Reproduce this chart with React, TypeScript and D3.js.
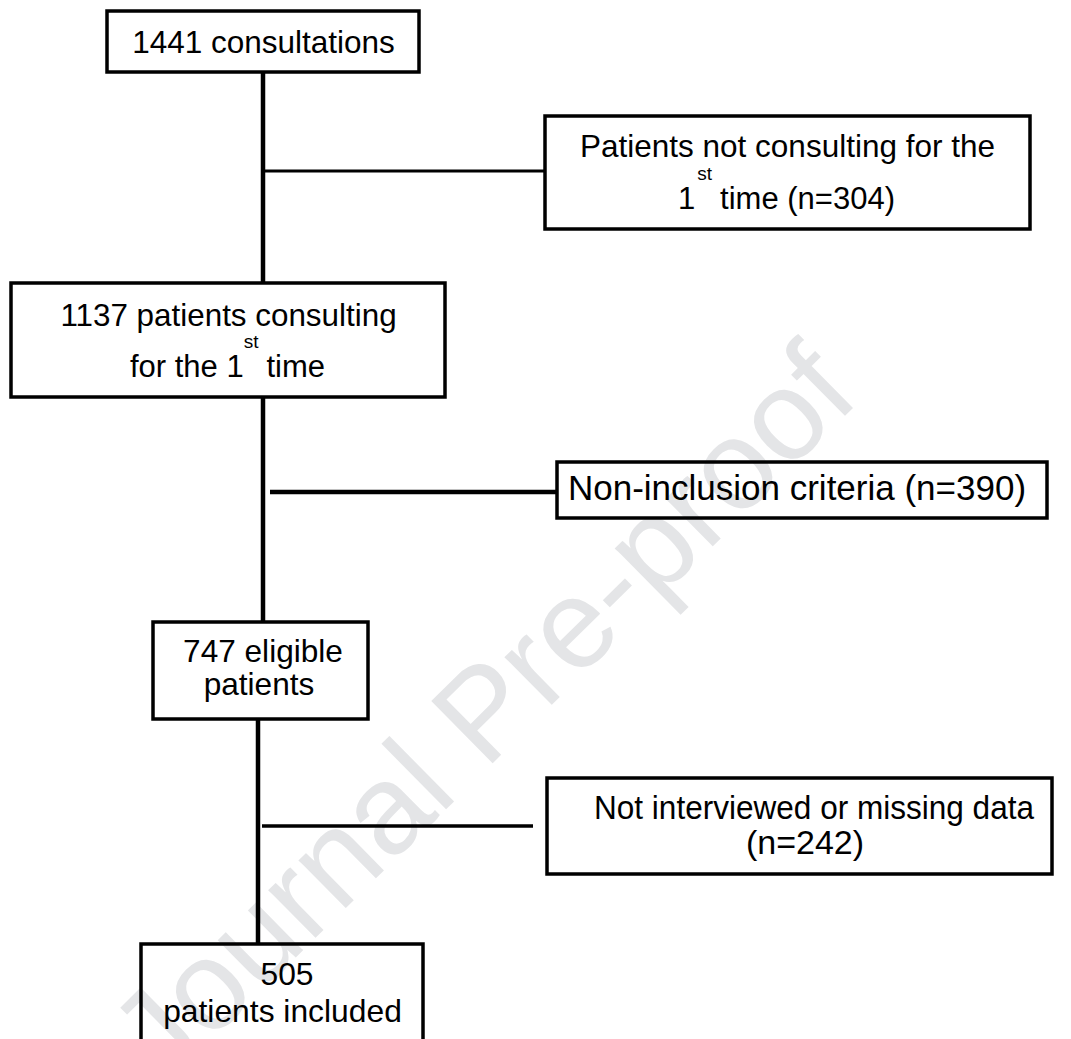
import { useEffect, useRef } from "react";
import * as d3 from "d3";

// flow counts
const stageLines = [
    ["1441 consultations"],
    ["1137 patients consulting", "for the 1{st} time"],
    ["747 eligible", "patients"],
    ["505", "patients included"],
];
const exclusionLines = [
    ["Patients not consulting for the", "1{st} time (n=304)"],
    ["Non-inclusion criteria (n=390)"],
    ["Not interviewed or missing data", "(n=242)"],
];
const watermark = "Journal Pre-proof";

const W = 1071;
const H = 1039;
const FONT = "'Liberation Sans', Arial, Helvetica, sans-serif";

// box geometry [x0, y0, x1, y1] and text placement
const stageLayout = [
    { box: [107, 11, 419, 72], lines: [{ cx: 263.5, y: 53, size: 31.5 }] },
    {
        box: [11, 283, 445, 397],
        lines: [
            { cx: 228.5, y: 326, size: 31.4 },
            { cx: 227.5, y: 377, size: 31, supDx: 0 },
        ],
    },
    {
        box: [153, 622, 368, 719],
        lines: [
            { cx: 263, y: 662, size: 31.6 },
            { cx: 259, y: 695, size: 31.6 },
        ],
    },
    {
        box: [141, 944, 423, 1070],
        lines: [
            { cx: 287, y: 985, size: 31.8 },
            { cx: 282.5, y: 1022, size: 31.8 },
        ],
    },
];
const trunkX = [263, 263, 258];

const exclusionLayout = [
    {
        box: [545, 116, 1030, 229],
        lines: [
            { cx: 787.5, y: 157, size: 31.5 },
            { cx: 786.5, y: 209, size: 31, supDx: 2 },
        ],
        link: { x0: 263, x1: 545, y: 171, w: 3 },
    },
    {
        box: [557, 462, 1047, 518],
        lines: [{ cx: 797, y: 500, size: 35 }],
        link: { x0: 270, x1: 556, y: 492, w: 4.5 },
    },
    {
        box: [547, 778, 1052, 874],
        lines: [
            { cx: 814, y: 819, size: 34, len: 440 },
            { cx: 805, y: 854, size: 34 },
        ],
        link: { x0: 262, x1: 533, y: 826, w: 3.5 },
    },
];

type LineLayout = { cx: number; y: number; size: number; len?: number; supDx?: number };

function drawText(g: any, text: string, l: LineLayout) {
    const t = g
        .append("text")
        .attr("x", l.cx)
        .attr("y", l.y)
        .attr("text-anchor", "middle")
        .attr("font-size", l.size)
        .attr("fill", "#000");
    const m = text.match(/^(.*?)\{(\w+)\}\s*(.*)$/);
    if (m) {
        t.append("tspan").text(m[1]);
        t.append("tspan")
            .attr("dx", l.supDx ?? 0)
            .attr("dy", -29)
            .attr("font-size", 19)
            .text(m[2]);
        t.append("tspan").attr("dx", 8).attr("dy", 29).text(m[3]);
    } else {
        t.text(text);
        if (l.len) t.attr("textLength", l.len).attr("lengthAdjust", "spacingAndGlyphs");
    }
}

function drawBox(g: any, box: number[]) {
    const [x0, y0, x1, y1] = box;
    g.append("rect")
        .attr("x", x0)
        .attr("y", y0)
        .attr("width", x1 - x0)
        .attr("height", y1 - y0)
        .attr("fill", "none")
        .attr("stroke", "#000")
        .attr("stroke-width", 3.5);
}

export default function App() {
    const svgRef = useRef<SVGSVGElement | null>(null);

    useEffect(() => {
        if (!svgRef.current) return;
        const svg = d3.select(svgRef.current);
        svg.selectAll("*").remove();

        svg.append("rect").attr("width", W).attr("height", H).attr("fill", "#fff");

        svg.append("text")
            .attr("transform", "translate(482,712) rotate(-44.6)")
            .attr("text-anchor", "middle")
            .attr("dominant-baseline", "central")
            .attr("font-family", FONT)
            .attr("font-size", 127)
            .attr("fill", "#e4e5e7")
            .text(watermark);

        const g = svg.append("g").attr("font-family", FONT);

        // trunk
        stageLayout.slice(0, -1).forEach((s, i) => {
            const next = stageLayout[i + 1];
            g.append("line")
                .attr("x1", trunkX[i])
                .attr("x2", trunkX[i])
                .attr("y1", s.box[3])
                .attr("y2", next.box[1])
                .attr("stroke", "#000")
                .attr("stroke-width", 4.5);
        });

        // side branches
        exclusionLayout.forEach((e) => {
            g.append("line")
                .attr("x1", e.link.x0)
                .attr("x2", e.link.x1)
                .attr("y1", e.link.y)
                .attr("y2", e.link.y)
                .attr("stroke", "#000")
                .attr("stroke-width", e.link.w);
        });

        stageLayout.forEach((s, i) => {
            drawBox(g, s.box);
            stageLines[i].forEach((txt, j) => drawText(g, txt, s.lines[j]));
        });

        exclusionLayout.forEach((e, i) => {
            drawBox(g, e.box);
            exclusionLines[i].forEach((txt, j) => drawText(g, txt, e.lines[j]));
        });
    }, []);

    return (
        <svg
            ref={svgRef}
            width={W}
            height={H}
            style={{ position: "absolute", left: 0, top: 0, display: "block" }}
        />
    );
}
